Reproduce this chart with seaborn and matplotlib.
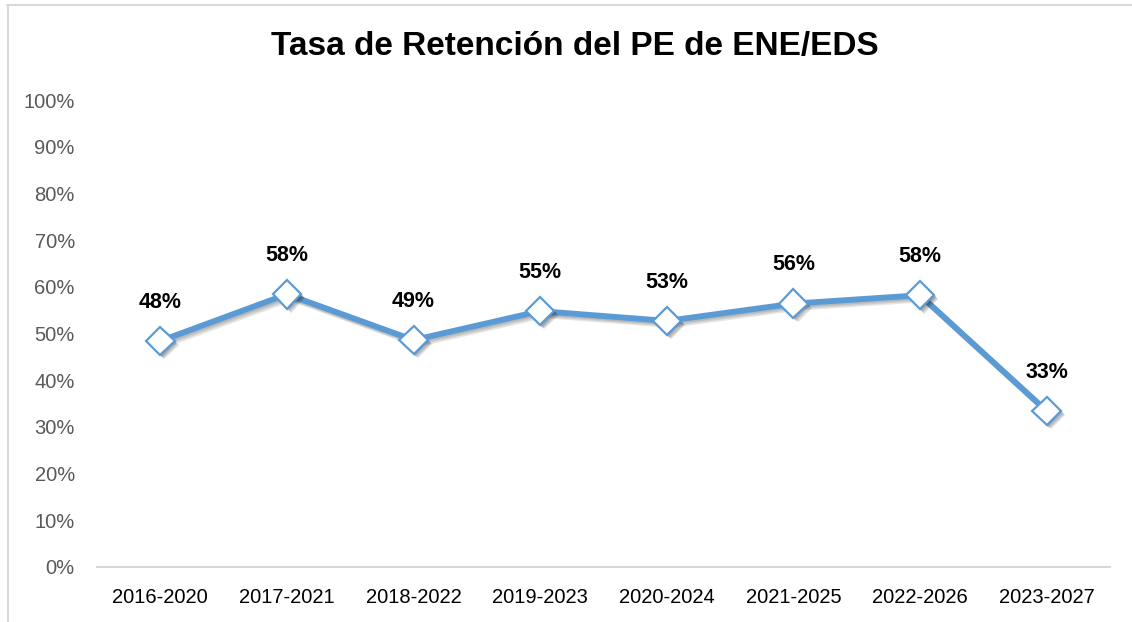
import matplotlib
matplotlib.use("Agg")
import matplotlib.pyplot as plt
import matplotlib.patheffects as pe
from matplotlib.lines import Line2D
import seaborn as sns
import pandas as pd
import numpy as np

categories = ["2016-2020", "2017-2021", "2018-2022", "2019-2023",
              "2020-2024", "2021-2025", "2022-2026", "2023-2027"]
values = [48.4, 58.4, 48.6, 54.8, 52.7, 56.4, 58.2, 33.4]
labels = ["48%", "58%", "49%", "55%", "53%", "56%", "58%", "33%"]
yticks = [0, 10, 20, 30, 40, 50, 60, 70, 80, 90, 100]

sns.set_theme(style="white")
plt.rcParams['font.family'] = ['Liberation Sans', 'DejaVu Sans']

W, H = 1132, 622
fig = plt.figure(figsize=(W / 100, H / 100), dpi=100)
ax = fig.add_axes([97 / W, 1 - 567 / H, (1110 - 97) / W, (567 - 100) / H])

df = pd.DataFrame({"pos": np.arange(len(categories)), "val": values})
blue = "#5B9BD5"

# line
sns.lineplot(data=df, x="pos", y="val", ax=ax, color=blue, linewidth=4.2, sort=False)
line_shadow = [pe.SimpleLineShadow(offset=(o, -o), shadow_color="black", alpha=0.1)
               for o in (1.0, 2.0, 3.0)] + [pe.Normal()]
ax.lines[-1].set_path_effects(line_shadow)
ax.lines[-1].set_zorder(3)

# markers
sns.lineplot(data=df, x="pos", y="val", ax=ax, color=blue, linestyle="", sort=False,
             marker="D", markersize=14.5, markerfacecolor="white",
             markeredgecolor=blue, markeredgewidth=1.6)
mk_shadow = [pe.SimplePatchShadow(offset=(o, -o), shadow_rgbFace="black", alpha=0.14)
             for o in (1.0, 2.0, 3.0)] + [pe.Normal()]
ax.lines[-1].set_path_effects(mk_shadow)
ax.lines[-1].set_zorder(4)

for x, v, t in zip(df["pos"], values, labels):
    ax.annotate(t, (x, v), xytext=(0, 28), textcoords="offset points",
                ha="center", va="center", fontsize=15.5, fontweight="bold", color="black")

ax.set_xlim(-0.5, len(categories) - 0.5)
ax.set_ylim(0, 100)
ax.set_yticks(yticks)
ax.set_yticklabels([f"{t}%" for t in yticks], color="#595959", fontsize=14.5)
ax.set_xticks(df["pos"])
ax.set_xticklabels(categories, color="black", fontsize=14.5)
ax.tick_params(axis="y", length=0, pad=16)
ax.tick_params(axis="x", length=0, pad=15)
ax.set_xlabel("")
ax.set_ylabel("")
for s in ["top", "right", "left"]:
    ax.spines[s].set_visible(False)
ax.spines["bottom"].set_color("#D9D9D9")
ax.spines["bottom"].set_linewidth(1.5)

fig.text(575 / W, 1 - 46 / H, "Tasa de Retención del PE de ENE/EDS", ha="center", va="center",
         fontsize=24, fontweight="bold", color="black")

# chart border (top and left edges visible)
fig.add_artist(Line2D([7 / W, 1.0], [1 - 4.5 / H, 1 - 4.5 / H], color="#D9D9D9", lw=1.5,
                      transform=fig.transFigure))
fig.add_artist(Line2D([7.5 / W, 7.5 / W], [0, 1 - 4.5 / H], color="#D9D9D9", lw=1.5,
                      transform=fig.transFigure))

fig.savefig("out.png", dpi=100)
